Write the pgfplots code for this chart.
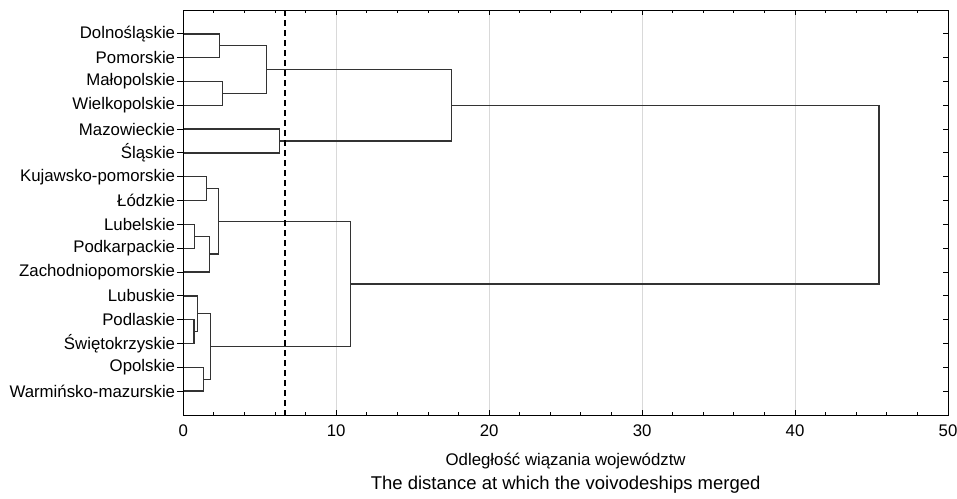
\documentclass[border=0pt]{standalone}
\usepackage{fontspec}
\setmainfont{Liberation Sans}
\usepackage{pgfplots}
\pgfplotsset{compat=1.18}
\definecolor{dend}{HTML}{333333}
\definecolor{gridc}{HTML}{D9D9D9}
\begin{document}
\begin{tikzpicture}
\pgfplotsset{
  common/.style={
    scale only axis, width=764.7bp, height=405bp,
    xmin=0, xmax=50, ymin=0, ymax=17, y dir=reverse,
    ytick={1,...,16},
    /pgf/number format/assume math mode=true,
    ticklabel style={font=\fontsize{16.8bp}{20bp}\selectfont},
  },
  dl/.style={dend, line width=1.4bp, mark=none},
}
\begin{axis}[common,
  tick align=inside,
  xtick={0,10,...,50}, minor x tick num=4,
  xtick pos=both,
  ytick pos=right, yticklabels={},
  major tick length=5bp, minor tick length=3bp,
  xmajorgrids, grid style={gridc, line width=0.9bp},
  axis line style={black, line width=1bp},
  tick style={black, line width=0.9bp},
  xticklabel style={yshift=-6bp},
  xlabel={Odległość wiązania województw},
  xlabel style={at={(rel axis cs:0.5,0)}, anchor=center, yshift=-46bp, font=\fontsize{16.8bp}{20bp}\selectfont},
  clip=false,
]
\addplot[dl] coordinates {(0,1) (2.36,1) (2.36,2) (0,2)};
\addplot[dl] coordinates {(0,3) (2.57,3) (2.57,4) (0,4)};
\addplot[dl] coordinates {(2.36,1.5) (5.45,1.5) (5.45,3.5) (2.57,3.5)};
\addplot[dl] coordinates {(0,5) (6.3,5) (6.3,6) (0,6)};
\addplot[dl] coordinates {(5.45,2.5) (17.54,2.5) (17.54,5.5) (6.3,5.5)};
\addplot[dl] coordinates {(0,7) (1.53,7) (1.53,8) (0,8)};
\addplot[dl] coordinates {(0,9) (0.72,9) (0.72,10) (0,10)};
\addplot[dl] coordinates {(0.72,9.5) (1.72,9.5) (1.72,11) (0,11)};
\addplot[dl] coordinates {(1.53,7.5) (2.31,7.5) (2.31,10.25) (1.72,10.25)};
\addplot[dl] coordinates {(0,13) (0.70,13) (0.70,14) (0,14)};
\addplot[dl] coordinates {(0,12) (0.94,12) (0.94,13.5) (0.70,13.5)};
\addplot[dl] coordinates {(0,15) (1.33,15) (1.33,16) (0,16)};
\addplot[dl] coordinates {(0.94,12.75) (1.77,12.75) (1.77,15.5) (1.33,15.5)};
\addplot[dl] coordinates {(2.31,8.875) (10.95,8.875) (10.95,14.125) (1.77,14.125)};
\addplot[dl] coordinates {(17.54,4) (45.5,4) (45.5,11.5) (10.95,11.5)};
\addplot[black, line width=2bp, mark=none, dash pattern=on 6bp off 4bp] coordinates {(6.63,0) (6.63,17)};
\node[font=\fontsize{18.5bp}{22bp}\selectfont] at (rel axis cs:0.5,0) [yshift=-70bp] {The distance at which the voivodeships merged};
\coordinate (ll) at (rel axis cs:0,0);
\end{axis}
\begin{axis}[common,
  axis y line*=left, hide x axis,
  tick align=outside,
  major tick length=6.5bp,
  axis line style={black, line width=1bp},
  tick style={black, line width=0.9bp},
  yticklabel style={inner sep=0pt, xshift=-1.5bp},
  yticklabels={Dolnośląskie,Pomorskie,Małopolskie,Wielkopolskie,Mazowieckie,Śląskie,Kujawsko-pomorskie,Łódzkie,Lubelskie,Podkarpackie,Zachodniopomorskie,Lubuskie,Podlaskie,Świętokrzyskie,Opolskie,Warmińsko-mazurskie},
]
\addplot[draw=none, mark=none] coordinates {(0,1)};
\end{axis}
\pgfresetboundingbox
\path (ll) ++(-183.3bp,-84bp) rectangle ++(957bp,499bp);
\end{tikzpicture}
\end{document}
